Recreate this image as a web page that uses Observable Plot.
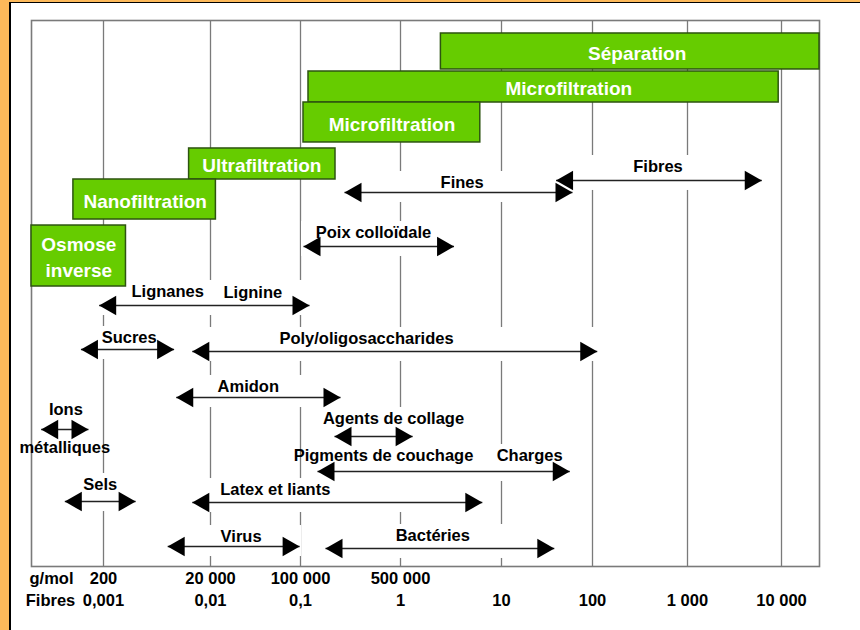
<!DOCTYPE html>
<html><head><meta charset="utf-8">
<script src="https://cdn.jsdelivr.net/npm/d3@7"></script>
<script src="https://cdn.jsdelivr.net/npm/@observablehq/plot@0.6"></script>
<style>
html,body{margin:0;padding:0;}
body{width:860px;height:630px;background:#FDB95A;position:relative;overflow:hidden;font-family:"Liberation Sans",Arial,sans-serif;}
#panel{position:absolute;left:9px;top:2px;right:0;bottom:0;background:#fff;border-left:2px solid #000;border-top:1px solid #000;}
#chart{position:absolute;left:0;top:0;}
</style></head><body><div id="panel"></div><div id="chart"></div>
<script>
// x values in decades of fibre size (log10), y values in % of plot height from top
const decades = [-3, -2, -1, 0, 1, 2, 3, 4];
const gmolTicks = ["200", "20 000", "100 000", "500 000", "", "", "", ""];
const fibreTicks = ["0,001", "0,01", "0,1", "1", "10", "100", "1 000", "10 000"];

const barNames = ["Séparation", "Microfiltration", "Microfiltration", "Ultrafiltration", "Nanofiltration", "Osmose\ninverse"];
const barFrom = [0.40, -0.92, -0.97, -2.20, -3.28, -3.67];
const barTo = [4.40, 3.97, 0.79, -0.65, -1.94, -2.79];
const barTop = [2.38, 9.34, 15.02, 23.44, 29.12, 37.55];
const barBottom = [8.97, 15.02, 22.34, 29.12, 36.45, 48.72];
const barLabelX = [2.47, 1.74, -0.085, -1.43, -2.61, -3.23];

const arrowNames = ["Fibres", "Fines", "Poix colloïdale", "Lignanes–Lignine", "Sucres", "Poly/oligosaccharides", "Amidon", "Ions métalliques", "Agents de collage", "Pigments de couchage–Charges", "Sels", "Latex et liants", "Virus", "Bactéries"];
const arrowFrom = [1.60, -0.56, -0.97, -3.04, -3.21, -2.17, -2.32, -3.58, -0.66, -0.83, -3.36, -2.17, -2.40, -0.75];
const arrowTo = [3.79, 1.78, 0.53, -0.91, -2.34, 2.05, -0.60, -3.14, 0.12, 1.75, -2.70, 0.81, -1.01, 1.58];
const arrowLevel = [29.30, 31.50, 41.39, 52.20, 60.26, 60.62, 69.05, 74.91, 76.19, 82.60, 88.10, 88.28, 96.34, 96.70];
const arrowLabelLevel = [26.74, 29.67, 38.83, 49.63, 58.06, 58.24, 67.03, null, 72.89, 79.67, 84.98, 85.90, 94.51, 94.32];

const labelTexts = ["Fibres", "Fines", "Poix colloïdale", "Lignanes", "Lignine", "Sucres", "Poly/oligosaccharides", "Amidon", "Ions", "métalliques", "Agents de collage", "Pigments de couchage", "Charges", "Sels", "Latex et liants", "Virus", "Bactéries"];
const labelX = [2.69, 0.61, -0.27, -2.40, -1.53, -2.76, -0.34, -1.58, -3.35, -3.36, -0.07, -0.17, 1.31, -3.03, -1.28, -1.66, 0.32];
const labelLevel = [26.74, 29.67, 38.83, 49.63, 49.82, 58.06, 58.24, 67.03, 71.25, 78.21, 72.89, 79.67, 79.67, 84.98, 85.90, 94.51, 94.32];

const bars = barNames.map((name, i) => ({name, x1: barFrom[i], x2: barTo[i], y1: barTop[i], y2: barBottom[i], lx: barLabelX[i], ly: (barTop[i] + barBottom[i]) / 2}));
const arrows = arrowNames.map((name, i) => ({name, x1: arrowFrom[i], x2: arrowTo[i], y: arrowLevel[i], ly: arrowLabelLevel[i]}));
const labels = labelTexts.map((text, i) => ({text, x: labelX[i], y: labelLevel[i]}));
const ticks = decades.map((d, i) => ({d, g: gmolTicks[i], f: fibreTicks[i]}));

const font = "Liberation Sans, Arial, sans-serif";
const plot = Plot.plot({
  width: 860, height: 630,
  marginLeft: 31, marginRight: 41, marginTop: 20, marginBottom: 64,
  style: {background: "transparent", fontFamily: font},
  x: {type: "linear", domain: [-3.67, -3, -2, -1, 0, 1, 2, 3, 4, 4.4], range: [31, 103, 210, 300, 400, 501, 592, 687, 781, 819], axis: null},
  y: {domain: [0, 100], reverse: true, axis: null},
  marks: [
    Plot.ruleX(decades, {stroke: "#7a7a7a", strokeWidth: 1.3}),
    Plot.rect(arrows.filter(d => d.ly != null), {x1: "x1", x2: "x2", y1: "ly", y2: "y", fill: "white", insetTop: -11, insetBottom: -10, insetLeft: -2, insetRight: -2}),
    Plot.frame({stroke: "#7a7a7a", strokeWidth: 1.6}),
    Plot.rect(bars, {x1: "x1", x2: "x2", y1: "y1", y2: "y2", fill: "#66CC00", stroke: "#2d5410", strokeWidth: 1.5}),
    Plot.text(bars, {x: "lx", y: "ly", text: "name", fill: "white", fontWeight: "bold", fontSize: 19, lineHeight: 1.37}),
    Plot.link(arrows, {x1: "x1", x2: "x2", y1: "y", y2: "y", stroke: "#222", strokeWidth: 1.5}),
    Plot.dot(arrows, {x: "x1", y: "y", symbol: "triangle2", r: 9.4, fill: "black", rotate: -90, dx: 11.3}),
    Plot.dot(arrows, {x: "x2", y: "y", symbol: "triangle2", r: 9.4, fill: "black", rotate: 90, dx: -11.3}),
    Plot.text(labels, {x: "x", y: "y", text: "text", fill: "black", fontWeight: "bold", fontSize: 16.5}),
    Plot.text(ticks, {x: "d", frameAnchor: "bottom", dy: 17, text: "g", fill: "black", fontWeight: "bold", fontSize: 16.5}),
    Plot.text(ticks, {x: "d", frameAnchor: "bottom", dy: 39, text: "f", fill: "black", fontWeight: "bold", fontSize: 16.5}),
    Plot.text(["g/mol"], {frameAnchor: "bottom-left", dx: 20, dy: 17, text: d => d, textAnchor: "middle", fill: "black", fontWeight: "bold", fontSize: 16.5}),
    Plot.text(["Fibres"], {frameAnchor: "bottom-left", dx: 19, dy: 39, text: d => d, textAnchor: "middle", fill: "black", fontWeight: "bold", fontSize: 16.5})
  ]
});
document.getElementById("chart").appendChild(plot);
</script>
</body></html>
